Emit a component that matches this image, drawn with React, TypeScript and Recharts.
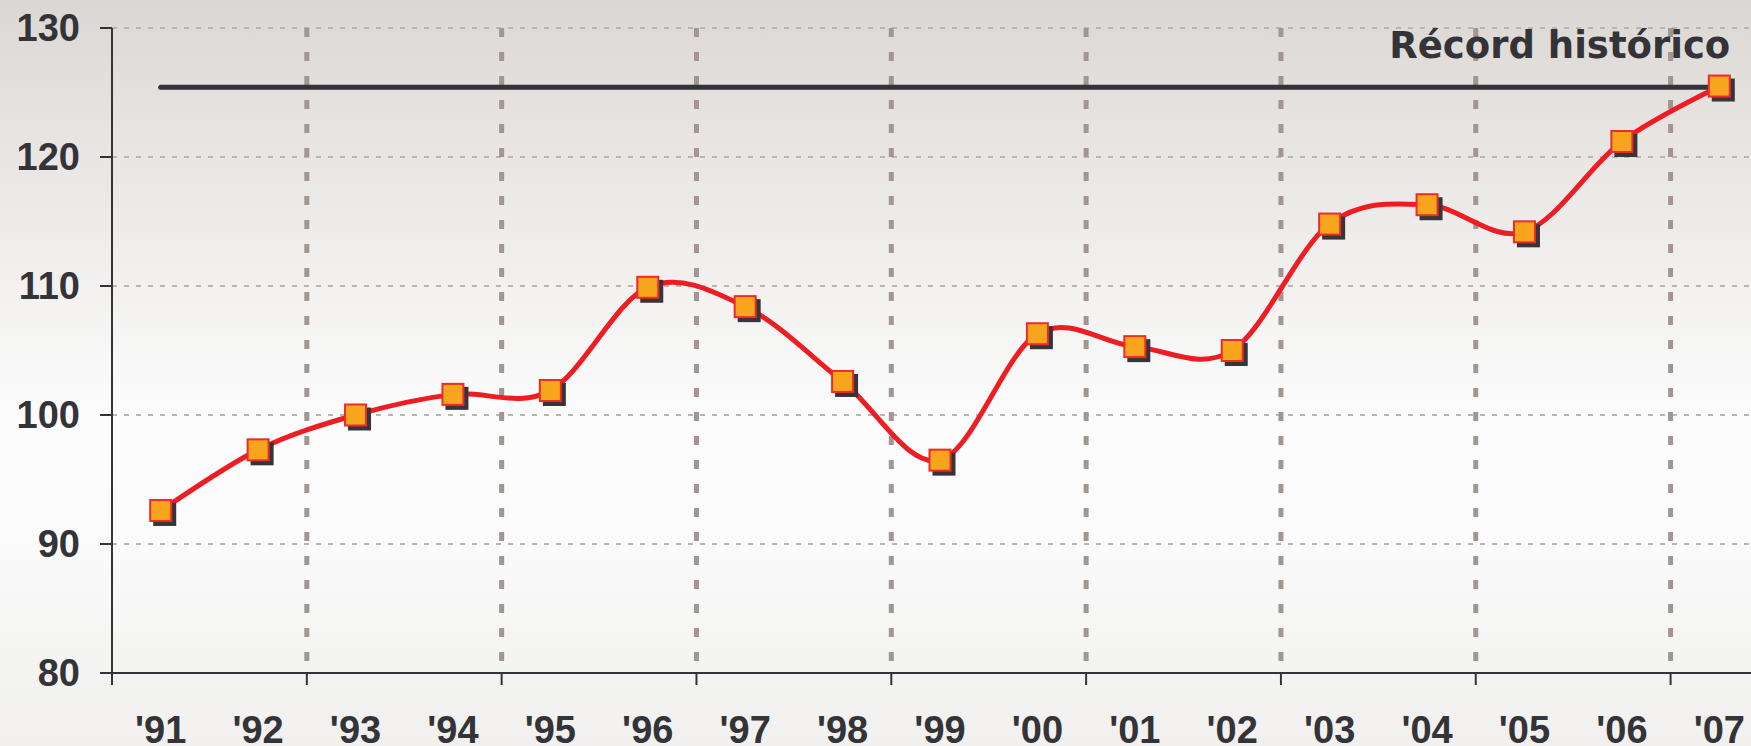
import React from "react"
import { CartesianGrid, Line, LineChart, ReferenceLine, XAxis, YAxis } from "recharts"

const years = ["'91", "'92", "'93", "'94", "'95", "'96", "'97", "'98", "'99", "'00", "'01", "'02", "'03", "'04", "'05", "'06", "'07"]
const index = [92.6, 97.3, 100.0, 101.6, 101.9, 109.9, 108.4, 102.6, 96.5, 106.3, 105.3, 105.0, 114.8, 116.3, 114.2, 121.2, 125.5]
const yTicks = [80, 90, 100, 110, 120, 130]
const recordValue = 125.4
const recordLabel = "Récord histórico"
// a dashed divider + tick mark every second year
const dividerEvery = 2

const data = years.map((year, i) => ({ year, value: index[i] }))

const font = "'Liberation Sans', Arial, sans-serif"
const ink = "#333338"
const axisGap = 43

// Excel-style smoothed line (uniform Catmull-Rom as cubic beziers)
const excelSmooth = (context: any) => {
  let pts: number[][] = []
  return {
    areaStart() {},
    areaEnd() {},
    lineStart() {
      pts = []
    },
    point(x: number, y: number) {
      pts.push([+x, +y])
    },
    lineEnd() {
      const n = pts.length
      if (!n) return
      context.moveTo(pts[0][0], pts[0][1])
      for (let i = 0; i < n - 1; i++) {
        const p0 = pts[Math.max(i - 1, 0)]
        const p1 = pts[i]
        const p2 = pts[i + 1]
        const p3 = pts[Math.min(i + 2, n - 1)]
        context.bezierCurveTo(
          p1[0] + (p2[0] - p0[0]) / 6,
          p1[1] + (p2[1] - p0[1]) / 6,
          p2[0] - (p3[0] - p1[0]) / 6,
          p2[1] - (p3[1] - p1[1]) / 6,
          p2[0],
          p2[1]
        )
      }
    },
  }
}

// band edges every second year, skipping the one under the y axis
function dividerXs({ xAxis, offset }: any) {
  const out: number[] = []
  const scale = xAxis?.scale
  years.forEach((y, i) => {
    if (i === 0 || i % dividerEvery !== 0) return
    if (typeof scale === "function") out.push(scale(y))
    else out.push(offset.left + (i * offset.width) / years.length)
  })
  return out
}

function YearTick(props: any) {
  const { x, y, payload, index: i } = props
  const half = payload?.offset ?? 0
  const axisY = y - axisGap
  return (
    <g>
      {i % dividerEvery === 0 && (
        <line x1={x - half} x2={x - half} y1={axisY} y2={axisY + 12} stroke={ink} strokeWidth={2} />
      )}
      <text x={x} y={y} dy="0.71em" textAnchor="middle" fill={ink} fontSize={38} fontWeight="bold" fontFamily={font}>
        {payload.value}
      </text>
    </g>
  )
}

function SquareDot(props: any) {
  const { cx, cy } = props
  if (cx == null || cy == null) return null
  const s = 23
  return (
    <g>
      <rect x={cx - s / 2 + 4} y={cy - s / 2 + 4} width={s} height={s} fill="#36353a" />
      <rect x={cx - s / 2 + 1} y={cy - s / 2 + 1} width={s - 2} height={s - 2} fill="#f7a51c" stroke="#ee2a2a" strokeWidth={2} />
    </g>
  )
}

function RecordLabel(props: any) {
  const vb = props.viewBox || {}
  const right = (vb.x ?? 0) + (vb.width ?? 0)
  return (
    <text x={right + 11} y={(vb.y ?? 0) - 29} textAnchor="end" fill={ink} fontFamily="'DejaVu Sans', Verdana, sans-serif" fontWeight="bold" fontSize={37}>
      {recordLabel}
    </text>
  )
}

export default function App() {
  return (
    <div
      style={{
        position: "absolute",
        left: 0,
        top: 0,
        width: 1751,
        height: 746,
        overflow: "hidden",
        background:
          "linear-gradient(to bottom, #dbd7d4 0%, #e7e4e2 18%, #f2f1f0 38%, #fcfcfc 56%, #fbfbfb 72%, #f4f4f3 88%, #f1f0ef 100%)",
      }}
    >
      <LineChart width={1768} height={746} data={data} margin={{ top: 28, right: 0, bottom: 0, left: 0 }}>
        <CartesianGrid vertical={false} stroke="#bcb4b1" strokeWidth={2} strokeDasharray="5 7" />
        <CartesianGrid
          horizontal={false}
          verticalCoordinatesGenerator={dividerXs}
          stroke="#a39591"
          strokeWidth={5}
          strokeDasharray="9 15"
        />
        <XAxis
          dataKey="year"
          scale="band"
          interval={0}
          height={73}
          axisLine={{ stroke: ink, strokeWidth: 2 }}
          tickLine={false}
          tickSize={0}
          tickMargin={axisGap}
          tick={<YearTick />}
        />
        <YAxis
          domain={[80, 130]}
          ticks={yTicks}
          width={112}
          tickSize={12}
          tickMargin={20}
          axisLine={{ stroke: ink, strokeWidth: 2 }}
          tickLine={{ stroke: ink, strokeWidth: 2 }}
          tick={{ fill: ink, fontSize: 38, fontWeight: "bold", fontFamily: font }}
        />
        <ReferenceLine
          segment={[
            { x: years[0], y: recordValue },
            { x: years[years.length - 1], y: recordValue },
          ]}
          stroke={ink}
          strokeWidth={5}
          strokeLinecap="round"
          label={<RecordLabel />}
        />
        <Line
          dataKey="value"
          type={excelSmooth as any}
          stroke="#ee1d23"
          strokeWidth={5}
          dot={(p: any) => <SquareDot key={`dot-${p.index}`} {...p} />}
          activeDot={false}
          isAnimationActive={false}
        />
      </LineChart>
    </div>
  )
}
